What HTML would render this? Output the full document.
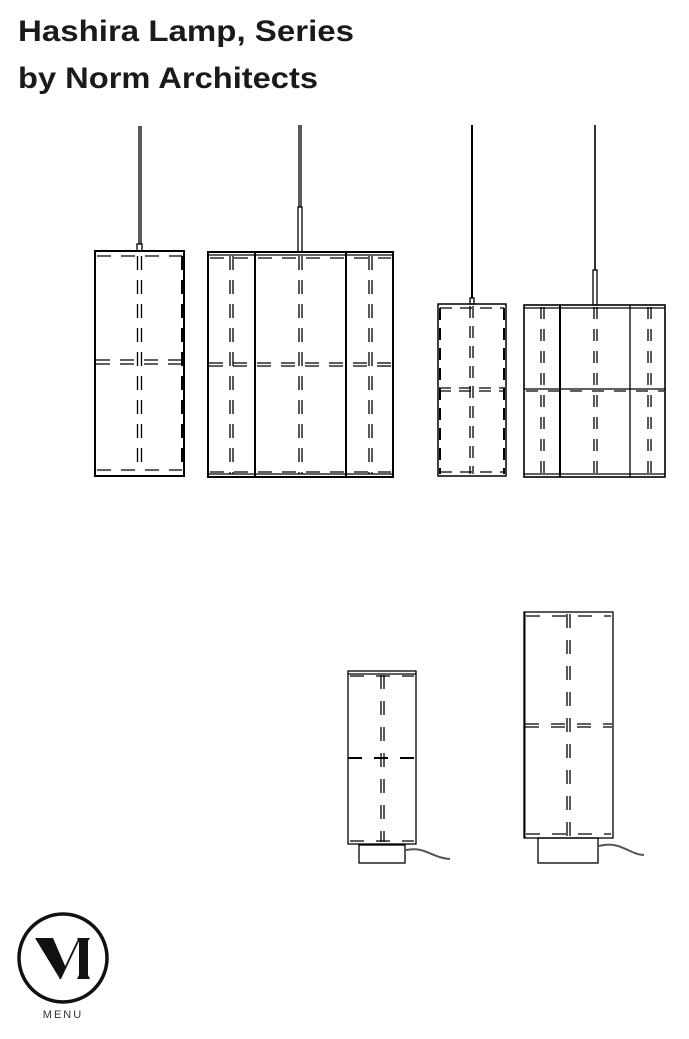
<!DOCTYPE html>
<html><head><meta charset="utf-8"><style>
html,body{margin:0;padding:0;background:#fff;}
svg{display:block;}
</style></head><body>
<svg width="689" height="1039" viewBox="0 0 689 1039" xmlns="http://www.w3.org/2000/svg">
<g font-family="Liberation Sans, sans-serif" font-weight="bold" fill="#1a1a1a">
<text x="18" y="41" font-size="30" textLength="336" lengthAdjust="spacingAndGlyphs">Hashira Lamp, Series</text>
<text x="18" y="88" font-size="30" textLength="300" lengthAdjust="spacingAndGlyphs">by Norm Architects</text>
</g>

<g stroke="#000" fill="none" stroke-width="1.3">
<!-- Lamp 1 -->
<line x1="139" y1="126" x2="139" y2="244"/><line x1="141" y1="126" x2="141" y2="244"/>
<rect x="137" y="244" width="5" height="7"/>
<rect x="95" y="251" width="89" height="225" stroke-width="2"/>
<g stroke-dasharray="14,10">
<line x1="97" y1="256" x2="182" y2="256"/><line x1="97" y1="470" x2="182" y2="470"/>
<line x1="96" y1="360" x2="183" y2="360"/><line x1="96" y1="364" x2="183" y2="364"/>
<line x1="137.5" y1="256" x2="137.5" y2="472"/><line x1="141.5" y1="256" x2="141.5" y2="472"/>
<line x1="182" y1="256" x2="182" y2="472" stroke-width="2"/>
</g>
<!-- Lamp 2 -->
<line x1="299" y1="125" x2="299" y2="207"/><line x1="301" y1="125" x2="301" y2="207"/>
<rect x="298" y="207" width="4" height="45"/>
<rect x="208" y="252" width="185" height="225" stroke-width="2"/>
<line x1="208" y1="255" x2="393" y2="255"/><line x1="208" y1="474" x2="393" y2="474"/>
<line x1="255" y1="252" x2="255" y2="477" stroke-width="2"/><line x1="346" y1="252" x2="346" y2="477" stroke-width="2"/>
<g stroke-dasharray="14,10">
<line x1="209" y1="363" x2="392" y2="363"/><line x1="209" y1="366" x2="392" y2="366"/>
<line x1="210" y1="258" x2="391" y2="258"/><line x1="210" y1="472" x2="391" y2="472"/>
<line x1="230" y1="256" x2="230" y2="474"/><line x1="233" y1="256" x2="233" y2="474"/>
<line x1="299" y1="256" x2="299" y2="474"/><line x1="302" y1="256" x2="302" y2="474"/>
<line x1="369" y1="256" x2="369" y2="474"/><line x1="372" y1="256" x2="372" y2="474"/>
</g>
<!-- Lamp 3 -->
<line x1="472" y1="125" x2="472" y2="298" stroke-width="2"/>
<rect x="470" y="298" width="4" height="6"/>
<rect x="438" y="304" width="68" height="172" stroke-width="1.5"/>
<g stroke-dasharray="12,8">
<line x1="440" y1="308" x2="504" y2="308"/><line x1="440" y1="472" x2="504" y2="472"/>
<line x1="439" y1="388" x2="505" y2="388"/><line x1="439" y1="391" x2="505" y2="391"/>
<line x1="470" y1="306" x2="470" y2="474"/><line x1="473" y1="306" x2="473" y2="474"/>
<line x1="440" y1="308" x2="440" y2="474" stroke-width="2"/><line x1="504" y1="308" x2="504" y2="474" stroke-width="2"/>
</g>
<!-- Lamp 4 -->
<line x1="595" y1="125" x2="595" y2="270" stroke-width="1.6"/>
<rect x="593" y="270" width="4" height="35"/>
<rect x="524" y="305" width="141" height="172" stroke-width="1.6"/>
<line x1="524" y1="308" x2="665" y2="308"/><line x1="524" y1="474" x2="665" y2="474"/>
<line x1="560" y1="305" x2="560" y2="477" stroke-width="2"/><line x1="630" y1="305" x2="630" y2="477"/>
<line x1="524" y1="389" x2="665" y2="389"/>
<g stroke-dasharray="12,10">
<line x1="526" y1="391" x2="664" y2="391"/>
<line x1="541" y1="307" x2="541" y2="475"/><line x1="544" y1="307" x2="544" y2="475"/>
<line x1="594" y1="307" x2="594" y2="475"/><line x1="597" y1="307" x2="597" y2="475"/>
<line x1="648" y1="307" x2="648" y2="475"/><line x1="651" y1="307" x2="651" y2="475"/>
</g>
<!-- Floor 1 -->
<rect x="348" y="671" width="68" height="173"/>
<line x1="348" y1="674" x2="416" y2="674"/>
<rect x="359" y="845" width="46" height="18"/>
<path d="M406 850 C425 846 432 858 450 859" stroke="#555" stroke-width="2"/>
<g stroke-dasharray="14,12">
<line x1="350" y1="676" x2="414" y2="676"/><line x1="350" y1="841" x2="414" y2="841"/>
<line x1="348" y1="758" x2="416" y2="758" stroke-width="2"/>
<line x1="381" y1="675" x2="381" y2="842"/><line x1="384" y1="675" x2="384" y2="842"/>
</g>
<!-- Floor 2 -->
<rect x="524" y="612" width="89" height="226"/>
<line x1="524.5" y1="612" x2="524.5" y2="838" stroke-width="2"/>
<rect x="538" y="838" width="60" height="25"/>
<path d="M599 846 C620 840 630 855 644 855" stroke="#555" stroke-width="2"/>
<g stroke-dasharray="14,12">
<line x1="526" y1="616" x2="611" y2="616"/><line x1="526" y1="834" x2="611" y2="834"/>
<line x1="525" y1="724" x2="612" y2="724"/><line x1="525" y1="727" x2="612" y2="727"/>
<line x1="567" y1="614" x2="567" y2="836"/><line x1="570" y1="614" x2="570" y2="836"/>
</g>
</g>

<!-- Logo -->
<circle cx="63" cy="958" r="44" fill="none" stroke="#111" stroke-width="3.5"/>
<polygon points="35,938 53,938 66,968 60,979" fill="#111"/>
<polygon points="59,979 78,939 80,939 61,979" fill="#111"/>
<path d="M77,938 L90,938 L88,941 L88,975 L90,979 L77,979 L79,975 L79,941 Z" fill="#111"/>
<text x="63" y="1018" font-family="Liberation Sans, sans-serif" font-size="11" fill="#333" text-anchor="middle" letter-spacing="2">MENU</text>
</svg>
</body></html>
